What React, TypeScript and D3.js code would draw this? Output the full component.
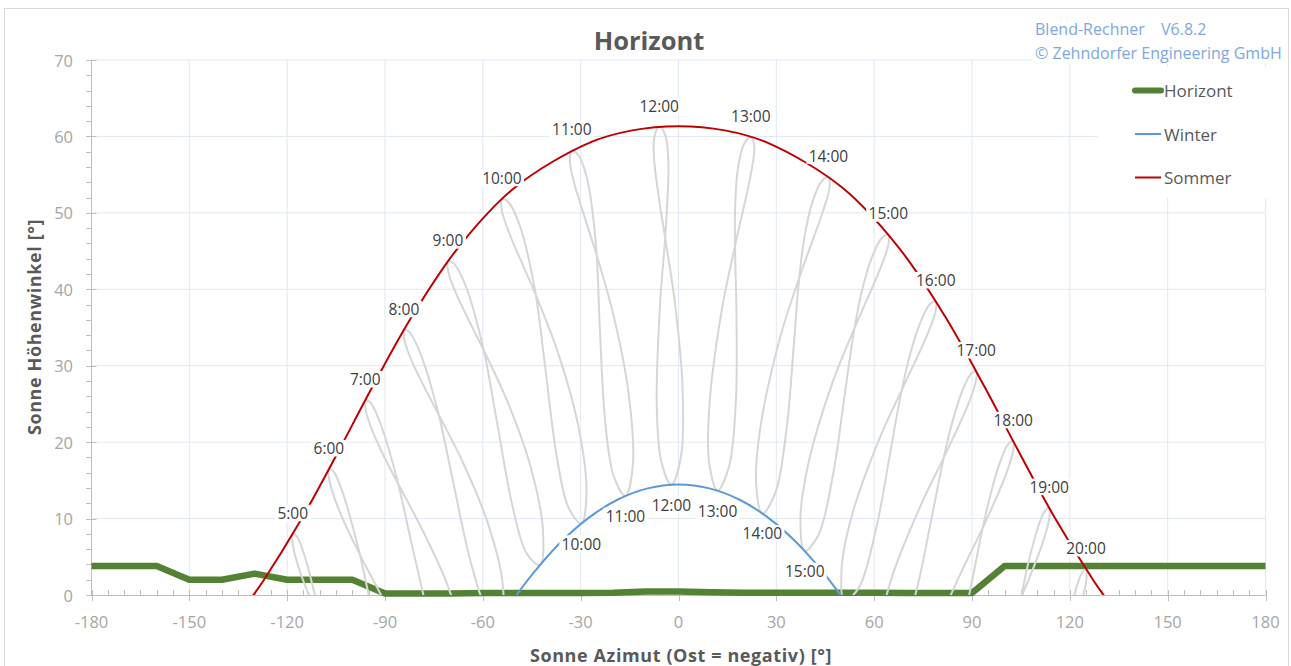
import React from "react";
import * as d3 from "d3";

type P = [number, number];

// ---------- axis ticks ----------
const xTicks = [-180, -150, -120, -90, -60, -30, 0, 30, 60, 90, 120, 150, 180];
const yTicks = [0, 10, 20, 30, 40, 50, 60, 70];

// ---------- horizon (azimuth / elevation) ----------
const horizonAz = [-180, -170, -160, -150, -140, -130, -120, -110, -100, -90, -80, -70, -60, -50, -40, -30, -20, -10, 0, 10, 20, 30, 40, 50, 60, 70, 80, 90, 100, 110, 120, 130, 140, 150, 160, 170, 180];
const horizonAlt = [3.8, 3.8, 3.8, 2, 2, 2.8, 2, 2, 2, 0.2, 0.2, 0.2, 0.25, 0.25, 0.25, 0.25, 0.3, 0.45, 0.45, 0.35, 0.3, 0.3, 0.3, 0.3, 0.28, 0.25, 0.25, 0.25, 3.8, 3.8, 3.8, 3.8, 3.8, 3.8, 3.8, 3.8, 3.8];

// ---------- solstice paths [azimuth, elevation] ----------
const winter: P[] = [[-51.09, -0.87], [-48.73, 0.54], [-44.72, 2.77], [-36.43, 6.77], [-27.76, 10.03], [-18.74, 12.46], [-9.45, 13.95], [0, 14.46], [9.45, 13.95], [18.74, 12.46], [27.76, 10.03], [36.43, 6.77], [44.72, 2.77], [48.73, 0.54], [51.09, -0.87]];
const summer: P[] = [[-131.27, -0.54], [-127.35, 1.84], [-115.98, 9.67], [-104.92, 18.29], [-93.68, 27.37], [-81.58, 36.56], [-67.59, 45.43], [-50.18, 53.32], [-27.57, 59.13], [-14.2, 60.79], [0, 61.34], [14.2, 60.79], [27.57, 59.13], [50.18, 53.32], [67.59, 45.43], [81.58, 36.56], [93.68, 27.37], [104.92, 18.29], [115.98, 9.67], [127.35, 1.84], [131.27, -0.54]];

// ---------- analemmas (sun position at a fixed clock time through the year) ----------
const an05: P[] = [[-105.61, -11.8], [-109.96, -2.85], [-114.54, 4.95], [-116.99, 7.63], [-118.29, 7.98], [-118.23, 6.48], [-116.59, 3.72], [-113.28, -0.07], [-109.08, -4.07], [-102.59, -9.63]];
const an06: P[] = [[-107.2, 16.46], [-107.04, 14.98], [-105.19, 12.32], [-101.63, 8.71], [-97.23, 4.89], [-90.63, -0.49], [-82.65, -7.6], [-76.99, -14.95], [-76.78, -19.67], [-81.33, -19.07], [-86.87, -13.86], [-93.55, -2.76], [-98.16, 6.07], [-103.17, 13.65], [-105.84, 16.19]];
const an07: P[] = [[-96.05, 25.48], [-95.82, 23.99], [-93.78, 21.39], [-89.99, 17.86], [-85.41, 14.09], [-78.71, 8.67], [-70.9, 1.36], [-65.68, -6.23], [-65.73, -10.95], [-70.07, -10.16], [-75.24, -4.77], [-81.68, 6.43], [-86.37, 15.26], [-91.7, 22.77], [-94.59, 25.25]];
const an08: P[] = [[-84.2, 34.67], [-83.95, 33.19], [-81.75, 30.58], [-77.72, 27.01], [-72.96, 23.12], [-66.2, 17.44], [-58.67, 9.67], [-53.99, 1.74], [-54.43, -2.98], [-58.62, -1.86], [-63.41, 3.84], [-69.37, 15.33], [-73.94, 24.32], [-79.47, 31.94], [-82.6, 34.44]];
const an09: P[] = [[-70.7, 43.65], [-70.52, 42.17], [-68.21, 39.47], [-64.02, 35.7], [-59.17, 31.54], [-52.5, 25.36], [-45.46, 16.94], [-41.58, 8.55], [-42.52, 3.92], [-46.59, 5.45], [-50.87, 11.57], [-56.02, 23.51], [-60.12, 32.8], [-65.54, 40.74], [-68.91, 43.36]];
const an10: P[] = [[-54.15, 51.82], [-54.18, 50.32], [-52.01, 47.46], [-47.89, 43.33], [-43.24, 38.72], [-37.07, 31.85], [-30.99, 22.64], [-28.23, 13.82], [-29.79, 9.35], [-33.68, 11.39], [-37.27, 17.97], [-41.05, 30.42], [-44.08, 40.07], [-48.78, 48.46], [-52.12, 51.38]];
const an11: P[] = [[-32.72, 58.18], [-33.31, 56.71], [-31.79, 53.61], [-28.49, 49.05], [-24.66, 43.87], [-19.73, 36.24], [-15.27, 26.26], [-13.98, 17.14], [-16.26, 12.96], [-19.85, 15.54], [-22.45, 22.56], [-24.17, 35.38], [-25.22, 45.31], [-27.88, 54.19], [-30.57, 57.47]];
const an12: P[] = [[-5.92, 61.25], [-7.41, 59.93], [-7.42, 56.73], [-5.96, 51.79], [-3.86, 46.15], [-1.01, 37.9], [1.22, 27.39], [0.79, 18.2], [-2.18, 14.43], [-5.31, 17.54], [-6.67, 24.88], [-5.7, 37.76], [-3.95, 47.64], [-3.1, 56.67], [-4.1, 60.25]];
const an13: P[] = [[22.18, 59.92], [20.01, 58.93], [18.23, 55.85], [17.37, 50.86], [17.36, 45.06], [17.78, 36.55], [17.64, 25.88], [15.54, 16.89], [11.98, 13.65], [9.43, 17.21], [9.45, 24.65], [13.22, 37.16], [17.77, 46.53], [22.22, 55.13], [23.23, 58.7]];
const an14: P[] = [[45.97, 54.74], [43.72, 54.03], [40.96, 51.28], [38.51, 46.53], [36.87, 40.85], [35.31, 32.43], [33.19, 21.93], [29.69, 13.35], [25.72, 10.67], [23.81, 14.58], [25.1, 21.92], [31.15, 33.67], [37.62, 42.23], [44.18, 50.07], [46.35, 53.42]];
const an15: P[] = [[64.33, 47.18], [62.27, 46.67], [59.33, 44.21], [56.22, 39.75], [53.72, 34.3], [50.94, 26.13], [47.47, 15.96], [42.95, 7.89], [38.71, 5.76], [37.39, 9.89], [39.71, 16.98], [47.27, 27.85], [54.64, 35.59], [61.86, 42.7], [64.38, 45.84]];
const an16: P[] = [[78.89, 38.44], [77.06, 38.04], [74.24, 35.75], [71.02, 31.5], [68.19, 26.25], [64.81, 18.33], [60.51, 8.52], [55.28, 0.93], [50.85, -0.73], [50.03, 3.52], [53.11, 10.31], [61.53, 20.36], [69.17, 27.47], [76.33, 34.11], [78.82, 37.11]];
const an17: P[] = [[91.28, 29.27], [89.62, 28.9], [87.01, 26.67], [83.9, 22.52], [81.03, 17.38], [77.41, 9.63], [72.64, 0.07], [66.9, -7.13], [62.31, -8.41], [61.87, -4.1], [65.49, 2.4], [74.39, 11.83], [82.0, 18.56], [88.86, 24.98], [91.19, 27.95]];
const an18: P[] = [[102.63, 20.14], [101.1, 19.74], [98.69, 17.48], [95.77, 13.32], [93.0, 8.19], [89.37, 0.49], [84.37, -8.94], [78.19, -15.91], [73.39, -16.93], [73.22, -12.61], [77.26, -6.32], [86.45, 2.76], [93.95, 9.37], [100.45, 15.82], [102.58, 18.81]];
const an19: P[] = [[98.32, -6.43], [105.68, 0.31], [111.79, 6.98], [113.7, 10.07], [113.68, 11.4], [112.24, 10.93], [110.02, 8.57], [107.34, 4.31], [104.78, -0.89], [101.29, -8.67]];
const an20: P[] = [[117.77, -8.24], [123.44, -1.17], [125.08, 2.05], [124.96, 3.38], [123.58, 2.79], [121.57, 0.29], [119.2, -4.14], [116.93, -9.49]];

const closedLoops = [an06, an07, an08, an09, an10, an11, an12, an13, an14, an15, an16, an17, an18];
const openLoops = [an05, an19, an20];

const summerHours = ["5:00", "6:00", "7:00", "8:00", "9:00", "10:00", "11:00", "12:00", "13:00", "14:00", "15:00", "16:00", "17:00", "18:00", "19:00", "20:00"];
const summerLoops = [an05, an06, an07, an08, an09, an10, an11, an12, an13, an14, an15, an16, an17, an18, an19, an20];
const winterHours = ["10:00", "11:00", "12:00", "13:00", "14:00", "15:00"];
const winterLoops = [an10, an11, an12, an13, an14, an15];

const legendItems = [
  { name: "Horizont", color: "#548235", width: 6 },
  { name: "Winter", color: "#5b9bd5", width: 2 },
  { name: "Sommer", color: "#c00000", width: 2 },
];

const FONT = "'Open Sans', 'DejaVu Sans', sans-serif";
const LABEL_SIZE = 15.5;

function HourLabel({ cx, cy, text }: { cx: number; cy: number; text: string }) {
  const w = text.length * LABEL_SIZE * 0.53 + 3;
  const h = LABEL_SIZE + 1;
  return (
    <g>
      <rect x={cx - w / 2} y={cy - h / 2} width={w} height={h} fill="#fff" />
      <text x={cx} y={cy} textAnchor="middle" dominantBaseline="central" fontSize={LABEL_SIZE} fill="#404040">{text}</text>
    </g>
  );
}

export default function App() {
  const left = 91.5, right = 1265.5, top = 60, bottom = 595;
  const x = d3.scaleLinear().domain([-180, 180]).range([left, right]);
  const y = d3.scaleLinear().domain([0, 70]).range([bottom, top]);

  const lineOpen = d3.line<P>().x(d => x(d[0])).y(d => y(d[1])).curve(d3.curveCatmullRom.alpha(0.5));
  const lineClosed = d3.line<P>().x(d => x(d[0])).y(d => y(d[1])).curve(d3.curveCatmullRomClosed.alpha(0.5));
  const horizonPts: P[] = horizonAz.map((a, i) => [a, horizonAlt[i]]);
  const lineLinear = d3.line<P>().x(d => x(d[0])).y(d => y(d[1]));

  const minorX = d3.range(-180, 181, 5).filter(v => v % 30 !== 0);
  const minorY = d3.range(0, 71, 2).filter(v => v % 10 !== 0);

  return (
    <svg width={1291} height={666} style={{ position: "absolute", left: 0, top: 0, background: "#fff" }} fontFamily={FONT}>
      <defs>
        <clipPath id="plot">
          <rect x={left} y={top - 5} width={right - left} height={bottom - top + 5} />
        </clipPath>
      </defs>
      <rect x={4.5} y={8.5} width={1284} height={664} fill="#fff" stroke="#d9d9d9" />

      {/* gridlines */}
      {xTicks.filter(t => t !== -180).map(t => (
        <line key={"gx" + t} x1={x(t)} x2={x(t)} y1={top} y2={bottom} stroke="#dfe8f5" strokeWidth={1} />
      ))}
      {yTicks.filter(t => t !== 0).map(t => (
        <line key={"gy" + t} x1={left} x2={right} y1={y(t)} y2={y(t)} stroke="#dfe8f5" strokeWidth={1} />
      ))}

      {/* axes */}
      <line x1={left} x2={left} y1={top} y2={bottom} stroke="#bfbfbf" />
      <line x1={left} x2={right} y1={bottom + 0.5} y2={bottom + 0.5} stroke="#bfbfbf" />
      {yTicks.map(t => (
        <line key={"ty" + t} x1={left - 5.5} x2={left + 5} y1={Math.round(y(t)) + 0.5} y2={Math.round(y(t)) + 0.5} stroke="#bfbfbf" />
      ))}
      {minorY.map(t => (
        <line key={"my" + t} x1={left - 5.5} x2={left} y1={Math.round(y(t)) + 0.5} y2={Math.round(y(t)) + 0.5} stroke="#bfbfbf" />
      ))}
      {xTicks.map(t => (
        <line key={"tx" + t} x1={Math.round(x(t)) + 0.5} x2={Math.round(x(t)) + 0.5} y1={bottom - 5} y2={bottom + 6} stroke="#bfbfbf" />
      ))}
      {minorX.map(t => (
        <line key={"mx" + t} x1={Math.round(x(t)) + 0.5} x2={Math.round(x(t)) + 0.5} y1={bottom - 5} y2={bottom} stroke="#bfbfbf" />
      ))}

      {/* tick labels */}
      {yTicks.map(t => (
        <text key={"ly" + t} x={73} y={y(t)} textAnchor="end" dominantBaseline="central" fontSize={16.5} fill="#a6a6a6">{t}</text>
      ))}
      {xTicks.map(t => (
        <text key={"lx" + t} x={x(t)} y={621} textAnchor="middle" dominantBaseline="central" fontSize={16.5} fill="#a6a6a6">{t}</text>
      ))}

      {/* horizon */}
      <path d={lineLinear(horizonPts) || ""} fill="none" stroke="#548235" strokeWidth={6.5} strokeLinejoin="round" />

      <g clipPath="url(#plot)">
        {closedLoops.map((pts, i) => (
          <path key={"cl" + i} d={lineClosed(pts) || ""} fill="none" stroke="#d6d6d6" strokeWidth={2} />
        ))}
        {openLoops.map((pts, i) => (
          <path key={"ol" + i} d={lineOpen(pts) || ""} fill="none" stroke="#d6d6d6" strokeWidth={2} />
        ))}
        <path d={lineOpen(winter) || ""} fill="none" stroke="#5b9bd5" strokeWidth={2} />
        <path d={lineOpen(summer) || ""} fill="none" stroke="#c00000" strokeWidth={2} />
      </g>

      {/* hour labels */}
      {summerHours.map((h, i) => {
        const p = d3.greatest(summerLoops[i], d => d[1]) as P;
        return <HourLabel key={"sh" + h} cx={x(p[0])} cy={y(p[1]) - 21} text={h} />;
      })}
      {winterHours.map((h, i) => {
        const p = d3.least(winterLoops[i], d => d[1]) as P;
        return <HourLabel key={"wh" + h} cx={x(p[0])} cy={y(p[1]) + 20} text={h} />;
      })}

      {/* title */}
      <text x={649} y={40} textAnchor="middle" dominantBaseline="central" fontSize={25.5} fontWeight="bold" fill="#595959">Horizont</text>

      {/* axis titles */}
      <text x={681} y={655} textAnchor="middle" dominantBaseline="central" fontSize={18} letterSpacing={0.6} fontWeight="bold" fill="#595959">Sonne Azimut (Ost = negativ)  [°]</text>
      <text transform="translate(34,327) rotate(-90)" textAnchor="middle" dominantBaseline="central" fontSize={18} letterSpacing={0.6} fontWeight="bold" fill="#595959">Sonne Höhenwinkel [°]</text>

      {/* copyright box */}
      <rect x={1032} y={12} width={255} height={51} fill="#fff" />
      <text x={1035} y={29} dominantBaseline="central" fontSize={16} fill="#7ea8dc">Blend-Rechner</text>
      <text x={1161} y={29} dominantBaseline="central" fontSize={16} fill="#7ea8dc">V6.8.2</text>
      <text x={1035} y={53} dominantBaseline="central" fontSize={16} fill="#7ea8dc">© Zehndorfer Engineering GmbH</text>

      {/* legend */}
      <rect x={1098} y={67} width={187} height={131} fill="#fff" />
      {legendItems.map((it, i) => {
        const ly = 90.5 + i * 43.5;
        return (
          <g key={it.name}>
            <line x1={1135} x2={1161} y1={ly} y2={ly} stroke={it.color} strokeWidth={it.width} strokeLinecap={it.width > 3 ? "round" : "butt"} />
            <text x={1164} y={ly} dominantBaseline="central" fontSize={17} fill="#595959">{it.name}</text>
          </g>
        );
      })}
    </svg>
  );
}
